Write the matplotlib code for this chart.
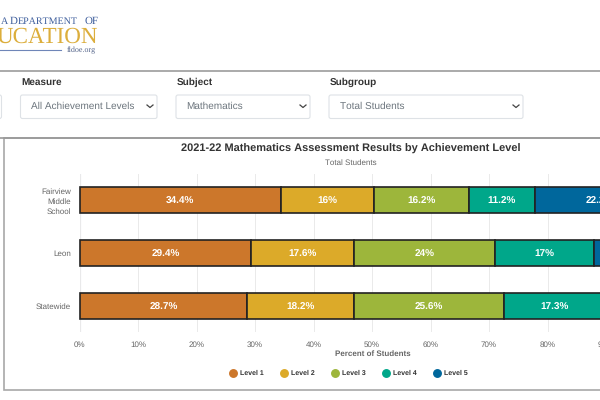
import numpy as np
import matplotlib
matplotlib.use('Agg')
import matplotlib.pyplot as plt
from matplotlib.patches import FancyBboxPatch, Rectangle
from matplotlib.lines import Line2D

plt.rcParams['font.family'] = ['Liberation Sans', 'DejaVu Sans']
plt.rcParams['text.hinting'] = 'no_hinting'
plt.rcParams['text.hinting_factor'] = 1

schools = ['Fairview\nMiddle\nSchool', 'Leon', 'Statewide']
levels = ['Level 1', 'Level 2', 'Level 3', 'Level 4', 'Level 5']
level1 = [34.4, 29.4, 28.7]
level2 = [16, 17.6, 18.2]
level3 = [16.2, 24, 25.6]
level4 = [11.2, 17, 17.3]
level5 = [22.2, 12, 10.2]
series = [level1, level2, level3, level4, level5]
colors = ['#cc772b', '#dcaa29', '#9db63b', '#00a78a', '#00679c']
xticks = list(range(0, 101, 10))

W, H = 600, 400
fig = plt.figure(figsize=(6, 4), dpi=100, facecolor='white')

# page furniture, in pixel coordinates
bg = fig.add_axes([0, 0, 1, 1], zorder=0)
bg.set_xlim(0, W)
bg.set_ylim(H, 0)
bg.axis('off')

# logo, small caps built from separate pieces
logo_blue = '#3f5f9d'
serif = ['Liberation Serif']
bg.text(8, 24, 'A', family=serif, fontsize=7.4, color=logo_blue, ha='right', va='baseline')
bg.text(9.5, 24, 'D', family=serif, fontsize=8.0, color=logo_blue, va='baseline')
bg.text(18, 24, 'EPARTMENT', family=serif, fontsize=7.5, color=logo_blue, va='baseline')
bg.text(99, 24, 'OF', family=serif, fontsize=7.8, color=logo_blue, ha='right', va='baseline')
bg.text(98, 37, 'UCATION', family=serif, fontsize=16.5, color='#dcae3c', ha='right', va='center')
bg.plot([0, 61], [50, 50], color='#6f86b8', lw=0.8)
bg.text(96, 50.5, 'fldoe.org', family=serif, fontsize=5.6, color='#55658a', ha='right', va='center')

# filter row
bg.plot([0, W], [71, 71], color='#aaaaaa', lw=1.4)
bg.plot([0, W], [138, 138], color='#999999', lw=1.2)


def dropdown(x0, x1, label, value):
    bg.add_patch(FancyBboxPatch((x0, 95), x1 - x0, 23.5, boxstyle='round,pad=0,rounding_size=2',
                                fc='white', ec='#dee2e6', lw=0.8))
    if label:
        bg.text(x0 + 0.5, 82, label, fontsize=7.3, fontweight='bold', color='#333333', va='center')
    if value:
        bg.text(x0 + 10.5, 106.5, value, fontsize=7.2, color='#6c757d', va='center')
        bg.plot([x1 - 10, x1 - 7, x1 - 4], [105, 107.5, 105], color='#444444', lw=0.9)


dropdown(-20, 1.5, '', '')
dropdown(20.5, 157, 'Measure', 'All Achievement Levels')
dropdown(176, 310, 'Subject', 'Mathematics')
dropdown(329, 523, 'Subgroup', 'Total Students')

# chart card
bg.add_patch(Rectangle((4, 138), 700, 252, fc='white', ec='#a8a8a8', lw=1.2))
bg.text(350.5, 149, '2021-22 Mathematics Assessment Results by Achievement Level', fontsize=8.15,
        fontweight='bold', color='#333333', ha='center', va='center')
bg.text(350.5, 162.5, 'Total Students', fontsize=5.5, color='#666666', ha='center', va='center')

# chart axes run past the right edge of the picture, as in the cropped screenshot
x0_px, x100_px, top_px, bot_px = 79.5, 664.5, 174, 332
ax = fig.add_axes([x0_px / W, 1 - bot_px / H, (x100_px - x0_px) / W, (bot_px - top_px) / H],
                  zorder=1, facecolor='none')
y = np.arange(len(schools))
left = np.zeros(len(schools))
for vals, c, name in zip(series, colors, levels):
    ax.barh(y, vals, left=left, height=0.5, color=c, edgecolor='#222222', linewidth=1.2,
            label=name, zorder=3, clip_on=False)
    for yi, v, l in zip(y, vals, left):
        ax.text(l + v / 2, yi, f'{v:g}%', color='white', fontsize=6.9, fontweight='bold',
                ha='center', va='center_baseline', zorder=4)
    left = left + np.array(vals)

ax.set_xlim(0, 100)
ax.set_ylim(2.49, -0.49)
ax.set_yticks(y, schools, fontsize=5.6, color='#666666', linespacing=1.4)
ax.set_xticks(xticks, [f'{t}%' for t in xticks], fontsize=5.7, color='#666666')
ax.tick_params(axis='y', length=0, pad=6)
ax.tick_params(axis='x', length=0, pad=6.3)
ax.grid(axis='x', color='#eaeaea', lw=0.7, zorder=0)
for s in ax.spines.values():
    s.set_visible(False)
ax.axvline(0, color='#ccd6eb', lw=0.8, zorder=1)

bg.text(372.5, 354, 'Percent of Students', fontsize=5.5, fontweight='bold', color='#666666',
        ha='center', va='center')

handles = [Line2D([], [], ls='', marker='o', ms=5.4, color=c, label=n) for c, n in zip(colors, levels)]
fig.legend(handles=handles, loc='center', bbox_to_anchor=(348.5 / W, 1 - 373.5 / H), ncol=5, frameon=False,
           prop={'size': 5.4, 'weight': 'bold'}, labelcolor='#333333', handletextpad=0.5,
           columnspacing=2.15, handlelength=1.0)

fig.savefig('out.png', dpi=100)
